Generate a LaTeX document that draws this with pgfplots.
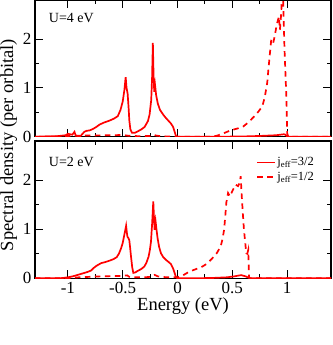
\documentclass[border=0pt]{standalone}
\usepackage{fontspec}
\setmainfont{Liberation Serif}
\usepackage{pgfplots}
\pgfplotsset{compat=1.18}

\pgfplotsset{
  panel/.style={
    scale only axis, width=296pt,
    xmin=-1.3, xmax=1.4, ymin=0, ymax=2.8,
    xtick={-1,-0.5,0,0.5,1}, minor x tick num=1,
    ytick={0,1,2}, yticklabels={0,1,2}, minor y tick num=1,
    tick align=inside, major tick length=8pt, minor tick length=4pt,
    axis line style={line width=1.2pt},
    every tick/.style={black, line width=0.9pt},
    tick label style={font=\fontsize{17}{17}\selectfont},
    clip=true,
  },
  jhalf/.style={red, line width=1.7pt, dash pattern=on 5.5pt off 4.5pt},
  jthree/.style={red, line width=1.7pt},
}

\begin{document}
\begin{tikzpicture}
\useasboundingbox (0,0) rectangle (332pt,345pt);

% U = 4 eV
\begin{axis}[panel, at={(35pt,208.3pt)}, anchor=south west, height=136.7pt,
  xticklabels={}]
\addplot[jthree] coordinates {
  (-1.3,0) (-1.1,0.01) (-1.02,0.03) (-1.0,0.06) (-0.98,0.05) (-0.96,0.04)
  (-0.94,0.1) (-0.93,0.03) (-0.91,0.01) (-0.89,0.0) (-0.87,0.05) (-0.85,0.1)
  (-0.83,0.12) (-0.8,0.13) (-0.77,0.16) (-0.74,0.2) (-0.71,0.25) (-0.67,0.29)
  (-0.62,0.33) (-0.58,0.37) (-0.545,0.42) (-0.52,0.55) (-0.5,0.72) (-0.485,0.95)
  (-0.473,1.22) (-0.465,1.0) (-0.455,0.88) (-0.445,0.55) (-0.44,0.34) (-0.43,0.15)
  (-0.415,0.08) (-0.39,0.08) (-0.37,0.1) (-0.33,0.15) (-0.3,0.2) (-0.27,0.32)
  (-0.255,0.45) (-0.24,0.75) (-0.232,1.2) (-0.225,1.92) (-0.218,1.2) (-0.212,0.92)
  (-0.205,1.06) (-0.195,0.85) (-0.18,0.68) (-0.16,0.55) (-0.13,0.45) (-0.105,0.38)
  (-0.08,0.32) (-0.06,0.27) (-0.04,0.2) (-0.015,0.02) (0,0) (0.4,0) (0.6,0.005)
  (0.75,0.015) (0.9,0.03) (0.97,0.05) (0.985,0.04) (1.0,0.0) (1.4,0)
};
\addplot[jhalf] coordinates {
  (-1.3,0) (-1.1,0.005) (-0.95,0.02) (-0.8,0.025) (-0.6,0.03) (-0.5,0.035)
  (-0.45,0.02) (-0.35,0.01) (-0.25,0.015) (-0.22,0.04) (-0.19,0.02) (-0.1,0.005)
  (0,0) (0.3,0) (0.36,0.02) (0.42,0.07) (0.485,0.13) (0.55,0.17) (0.6,0.21)
  (0.65,0.3) (0.697,0.41) (0.74,0.52) (0.773,0.62) (0.795,0.8) (0.818,1.1)
  (0.83,1.4) (0.843,1.71) (0.855,1.99) (0.873,1.92) (0.89,2.1) (0.904,2.29)
  (0.925,2.46) (0.934,2.19) (0.946,2.53) (0.958,3.2) (0.966,2.6) (0.976,1.78)
  (0.994,0.75) (1.0,0.07) (1.01,0) (1.4,0)
};
\node[anchor=base west, font=\fontsize{14}{14}\selectfont]
  at (rel axis cs:0.035,0.834) {U=4 eV};
\end{axis}

% U = 2 eV
\begin{axis}[panel, at={(35pt,66.7pt)}, anchor=south west, height=137.3pt,
  xticklabels={-1,-0.5,0,0.5,1},
  legend style={draw=none, fill=none, at={(rel axis cs:0.96,0.91)}, anchor=north east,
    font=\fontsize{12.5}{12.5}\selectfont, row sep=1pt},
  legend cell align=left]
\addplot[jthree] coordinates {
  (-1.3,0) (-1.1,0) (-1.05,0.005) (-1.0,0.02) (-0.955,0.04) (-0.91,0.07)
  (-0.864,0.1) (-0.82,0.13) (-0.787,0.16) (-0.765,0.21) (-0.742,0.25) (-0.72,0.28)
  (-0.696,0.31) (-0.66,0.33) (-0.62,0.36) (-0.585,0.39) (-0.555,0.43) (-0.535,0.5)
  (-0.515,0.61) (-0.5,0.72) (-0.485,0.89) (-0.475,1.0) (-0.469,1.07) (-0.462,0.93)
  (-0.457,0.85) (-0.448,0.82) (-0.44,0.78) (-0.432,0.62) (-0.424,0.44) (-0.413,0.22)
  (-0.403,0.11) (-0.385,0.12) (-0.364,0.15) (-0.33,0.19) (-0.303,0.24) (-0.285,0.31)
  (-0.264,0.44) (-0.252,0.58) (-0.242,0.75) (-0.232,1.1) (-0.221,1.57) (-0.215,1.25)
  (-0.209,0.99) (-0.2,1.16) (-0.192,1.0) (-0.182,0.82) (-0.168,0.64) (-0.151,0.51)
  (-0.13,0.43) (-0.105,0.375) (-0.08,0.33) (-0.06,0.29) (-0.04,0.2) (-0.015,0.03)
  (0,0) (0.3,0.005) (0.45,0.02) (0.52,0.04) (0.58,0.065) (0.62,0.04) (0.66,0) (1.4,0)
};
\addlegendentry{j\textsubscript{eff}=3/2}
\addplot[jhalf] coordinates {
  (-1.3,0) (-1.0,0.005) (-0.9,0.02) (-0.8,0.03) (-0.7,0.04) (-0.6,0.045)
  (-0.5,0.05) (-0.46,0.06) (-0.44,0.03) (-0.4,0.02) (-0.3,0.02) (-0.25,0.03)
  (-0.21,0.07) (-0.18,0.04) (-0.1,0.02) (0,0.02) (0.05,0.06) (0.106,0.135)
  (0.16,0.18) (0.227,0.24) (0.27,0.3) (0.318,0.41) (0.36,0.52) (0.394,0.65)
  (0.41,0.8) (0.425,0.99) (0.435,1.25) (0.445,1.54) (0.461,1.74) (0.479,1.67)
  (0.5,1.78) (0.53,1.91) (0.552,1.88) (0.568,1.95) (0.576,2.08) (0.585,1.71)
  (0.595,1.35) (0.606,0.99) (0.617,0.74) (0.627,0.51) (0.636,0.5) (0.645,0.58)
  (0.652,0.03) (0.66,0) (1.4,0)
};
\addlegendentry{j\textsubscript{eff}=1/2}
\node[anchor=base west, font=\fontsize{14}{14}\selectfont]
  at (rel axis cs:0.035,0.813) {U=2 eV};
\end{axis}

\node[rotate=90, anchor=north, inner sep=0pt, font=\fontsize{18.5}{18.5}\selectfont]
  at (0pt,200pt) {Spectral density (per orbital)};
\node[anchor=base, inner sep=0pt, font=\fontsize{18.5}{18.5}\selectfont]
  at (183pt,34pt) {Energy (eV)};
\end{tikzpicture}
\end{document}
